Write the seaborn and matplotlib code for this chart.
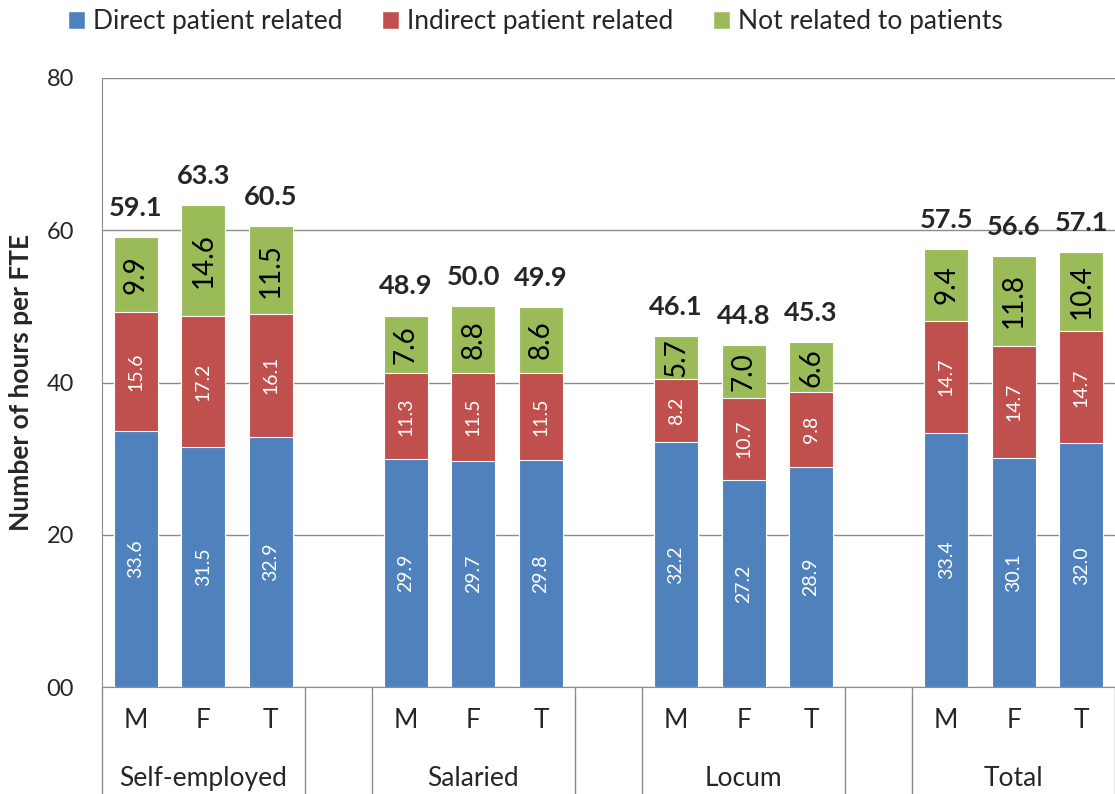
import numpy as np
import pandas as pd
import matplotlib
matplotlib.use('Agg')
import matplotlib.pyplot as plt
from matplotlib.patches import Patch
import seaborn as sns

groups = ['Self-employed', 'Salaried', 'Locum', 'Total']
sexes = ['M', 'F', 'T']
direct = [33.6, 31.5, 32.9, 29.9, 29.7, 29.8, 32.2, 27.2, 28.9, 33.4, 30.1, 32.0]
indirect = [15.6, 17.2, 16.1, 11.3, 11.5, 11.5, 8.2, 10.7, 9.8, 14.7, 14.7, 14.7]
other = [9.9, 14.6, 11.5, 7.6, 8.8, 8.6, 5.7, 7.0, 6.6, 9.4, 11.8, 10.4]
totals = [59.1, 63.3, 60.5, 48.9, 50.0, 49.9, 46.1, 44.8, 45.3, 57.5, 56.6, 57.1]
series = ['Direct patient related', 'Indirect patient related', 'Not related to patients']
colors = ['#4F81BD', '#C0504D', '#9BBB59']

sns.set_style('white')
plt.rcParams['font.family'] = ['Lato', 'DejaVu Sans']

df = pd.DataFrame({
    'group': np.repeat(groups, 3),
    'sex': sexes * 4,
    'direct': direct,
    'indirect': indirect,
    'other': other,
})
df['slot'] = df['group'] + '-' + df['sex']
df['cum1'] = df['direct']
df['cum2'] = df['direct'] + df['indirect']
df['cum3'] = df['cum2'] + df['other']

# category order with an empty slot between groups
order = []
for i, g in enumerate(groups):
    order += [g + '-' + s for s in sexes]
    if i < len(groups) - 1:
        order.append('gap%d' % i)

fig = plt.figure(figsize=(11.15, 7.94), dpi=100)
ax = fig.add_axes([102 / 1115, 107 / 794, 1013 / 1115, 609 / 794])

for col, c in zip(['cum3', 'cum2', 'cum1'], colors[::-1]):
    sns.barplot(data=df, x='slot', y=col, order=order, color=c, width=0.65,
                edgecolor='white', linewidth=0.8, errorbar=None, saturation=1, ax=ax)

ax.set_xlim(-0.5, len(order) - 0.5)
ax.set_ylim(0, 80)
ax.set_yticks([0, 20, 40, 60, 80])
ax.set_yticklabels(['00', '20', '40', '60', '80'], fontsize=17)
ax.tick_params(axis='y', length=0, pad=20)
ax.set_xticks([])
ax.set_xlabel('')
ax.set_ylabel('Number of hours per FTE', fontsize=19, fontweight='bold')
ax.yaxis.set_label_coords(-0.068, 0.5)
ax.yaxis.grid(True, color='#8c8c8c', linewidth=1)
ax.set_axisbelow(True)
sns.despine(ax=ax)
for sp in ['left', 'bottom']:
    ax.spines[sp].set_color('#8c8c8c')

trans = ax.get_xaxis_transform()
for _, r in df.iterrows():
    x = order.index(r['slot'])
    ax.text(x, r['direct'] / 2, '%.1f' % r['direct'], rotation=90, ha='center', va='center',
            color='white', fontsize=14)
    ax.text(x, r['direct'] + r['indirect'] / 2, '%.1f' % r['indirect'], rotation=90,
            ha='center', va='center', color='white', fontsize=14)
    ax.text(x, r['cum2'] + r['other'] / 2, '%.1f' % r['other'], rotation=90,
            ha='center', va='center', color='black', fontsize=20)
    ax.annotate('%.1f' % totals[_], (x, r['cum3']), xytext=(0, 21), textcoords='offset points',
                ha='center', va='center', fontsize=19.5, fontweight='bold')
    ax.text(x, -0.055, r['sex'], transform=trans, ha='center', va='center', fontsize=19)

for i, g in enumerate(groups):
    ax.text(i * 4 + 1, -0.15, g, transform=trans, ha='center', va='center', fontsize=19)

seps = [-0.5]
for i in range(len(groups)):
    seps += [i * 4 + 2.5, i * 4 + 3.5]
for s in seps:
    ax.plot([s, s], [0, -0.18], transform=trans, color='#8c8c8c', lw=1, clip_on=False)

handles = [Patch(facecolor=c, edgecolor='white') for c in colors]
fig.legend(handles, series, loc='center left', bbox_to_anchor=(57 / 1115, 1 - 22 / 794),
           ncol=3, frameon=False, fontsize=19, handlelength=0.65, handleheight=0.65,
           handletextpad=0.3, columnspacing=1.5, borderaxespad=0)

fig.savefig('out.png', dpi=100)
